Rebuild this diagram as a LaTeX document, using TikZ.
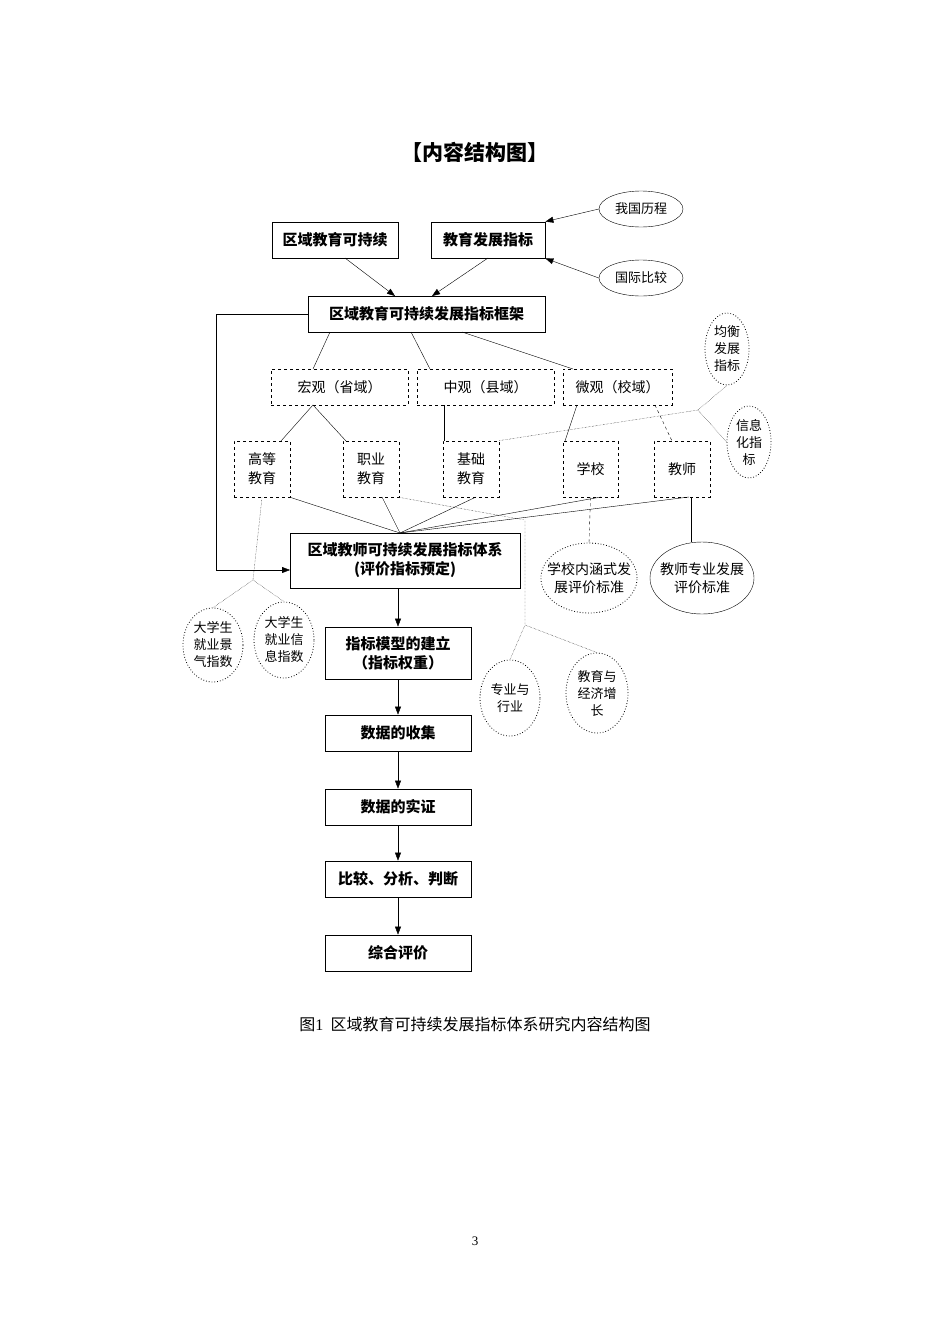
\documentclass[tikz,border=0pt]{standalone}
\usepackage{fontspec}
\setmainfont{Noto Sans CJK SC}
\newfontfamily\capfont{Liberation Serif}
\usetikzlibrary{arrows.meta,shapes.geometric}
\begin{document}
\begin{tikzpicture}[x=1pt,y=-1pt,
  box/.style={draw,thick,inner sep=0,font=\fontsize{15}{19}\selectfont\bfseries,align=center},
  dbox/.style={draw,thick,dashed,inner sep=0,font=\fontsize{14}{19}\selectfont,align=center},
  ell/.style={draw,ellipse,inner sep=-3pt,font=\fontsize{13}{17}\selectfont,align=center},
  dell/.style={ell,dotted,thick},
  arr/.style={-{Triangle[length=8pt,width=6pt]}},
  dl/.style={densely dotted}]
\useasboundingbox (0,0) rectangle (950,1344);
\node[font=\fontsize{21}{24}\selectfont\bfseries] (t) at (475,152) {【内容结构图】};
\node[box,minimum width=126,minimum height=36] (A) at (335,240) {区域教育可持续};
\node[box,minimum width=114,minimum height=36] (B) at (488,240) {教育发展指标};
\node[ell,minimum width=84,minimum height=36] (e1) at (641,209) {我国历程};
\node[ell,minimum width=84,minimum height=36] (e2) at (641,278) {国际比较};
\draw[arr] (e1.west) -- (B.north east);
\draw[arr] (e2.west) -- (B.south east);
\node[box,minimum width=237,minimum height=36] (F) at (426.5,314) {区域教育可持续发展指标框架};
\draw[arr] (345,258) -- (395,296);
\draw[arr] (488,258) -- (432,296);
\node[dbox,minimum width=137,minimum height=36] (M1) at (339.5,387) {宏观（省域）};
\node[dbox,minimum width=137,minimum height=36] (M2) at (485.5,387) {中观（县域）};
\node[dbox,minimum width=109,minimum height=36] (M3) at (617.5,387) {微观（校域）};
\draw (330,332) -- (313,369);
\draw (411,332) -- (430,369);
\draw (462,332) -- (573,369);
\node[dbox,minimum width=56,minimum height=56] (H) at (262,469) {高等\\教育};
\node[dbox,minimum width=56,minimum height=56] (Z) at (371,469) {职业\\教育};
\node[dbox,minimum width=56,minimum height=56] (J) at (471,469) {基础\\教育};
\node[dbox,minimum width=55,minimum height=56] (X) at (590.5,469) {学校};
\node[dbox,minimum width=56,minimum height=56] (T) at (682,469) {教师};
\draw (313,405) -- (281,441);
\draw (313,405) -- (346,441);
\draw (444,405) -- (444,441);
\draw (577,405) -- (565,441);
\draw[dashed] (655,405) -- (672,441);
\node[dell,minimum width=44,minimum height=72] (E1) at (727,349) {均衡\\发展\\指标};
\node[dell,minimum width=44,minimum height=72] (E2) at (749,442) {信息\\化指\\标};
\coordinate (j1) at (698,410);
\draw[dl] (J.north east) -- (j1) -- (E1.south);
\draw[dl] (j1) -- (E2.west);
\node[box,minimum width=230,minimum height=55] (C) at (405,560.5) {区域教师可持续发展指标体系\\(评价指标预定)};
\coordinate (cv) at (400,533);
\draw (H.south east) -- (cv);
\draw (382,497) -- (cv);
\draw (476,497) -- (cv);
\draw (601,497) -- (cv);
\draw (689,497) -- (cv);
\coordinate (cl) at (290,570);
\draw[arr] (F.west) -- (216,314) -- (216,570) -- (cl);
\node[dell,minimum width=60,minimum height=74] (D1) at (213,645) {大学生\\就业景\\气指数};
\node[dell,minimum width=60,minimum height=76] (D2) at (284,640) {大学生\\就业信\\息指数};
\coordinate (jh) at (253,580);
\draw[dl] (H.south) -- (jh) -- (D1.north);
\draw[dl] (jh) -- (D2.north);
\node[dell,minimum width=60,minimum height=76] (P1) at (510,698) {专业与\\行业};
\node[dell,minimum width=62,minimum height=80] (P2) at (597,693) {教育与\\经济增\\长};
\coordinate (jz) at (525,520);
\coordinate (jz2) at (525,625);
\draw[dl] (Z.south east) -- (jz) -- (jz2) -- (P1.north);
\draw[dl] (jz2) -- (P2.north);
\node[dell,inner sep=-8pt,minimum width=96,minimum height=70,font=\fontsize{14}{18}\selectfont] (S1) at (589,578) {学校内涵式发\\展评价标准};
\node[ell,inner sep=-8pt,minimum width=104,minimum height=72,font=\fontsize{14}{18}\selectfont] (S2) at (702,578) {教师专业发展\\评价标准};
\draw[dashed] (X.south) -- (S1.north);
\draw (691,497) -- (S2.north -| 691,0);
\node[box,minimum width=146,minimum height=52] (K1) at (398,653) {指标模型的建立\\（指标权重）};
\node[box,minimum width=146,minimum height=36] (K2) at (398,733) {数据的收集};
\node[box,minimum width=146,minimum height=36] (K3) at (398,807) {数据的实证};
\node[box,minimum width=146,minimum height=36] (K4) at (398,879) {比较、分析、判断};
\node[box,minimum width=146,minimum height=36] (K5) at (398,953) {综合评价};
\draw[arr] (398,588) -- (K1.north);
\draw[arr] (K1) -- (K2);
\draw[arr] (K2) -- (K3);
\draw[arr] (K3) -- (K4);
\draw[arr] (K4) -- (K5);
\node[font=\fontsize{16}{20}\selectfont] (cap) at (475,1024) {图{\capfont 1}\ \ 区域教育可持续发展指标体系研究内容结构图};
\node[font=\capfont\fontsize{13}{16}\selectfont] (pg) at (475,1241) {3};
\end{tikzpicture}
\end{document}
